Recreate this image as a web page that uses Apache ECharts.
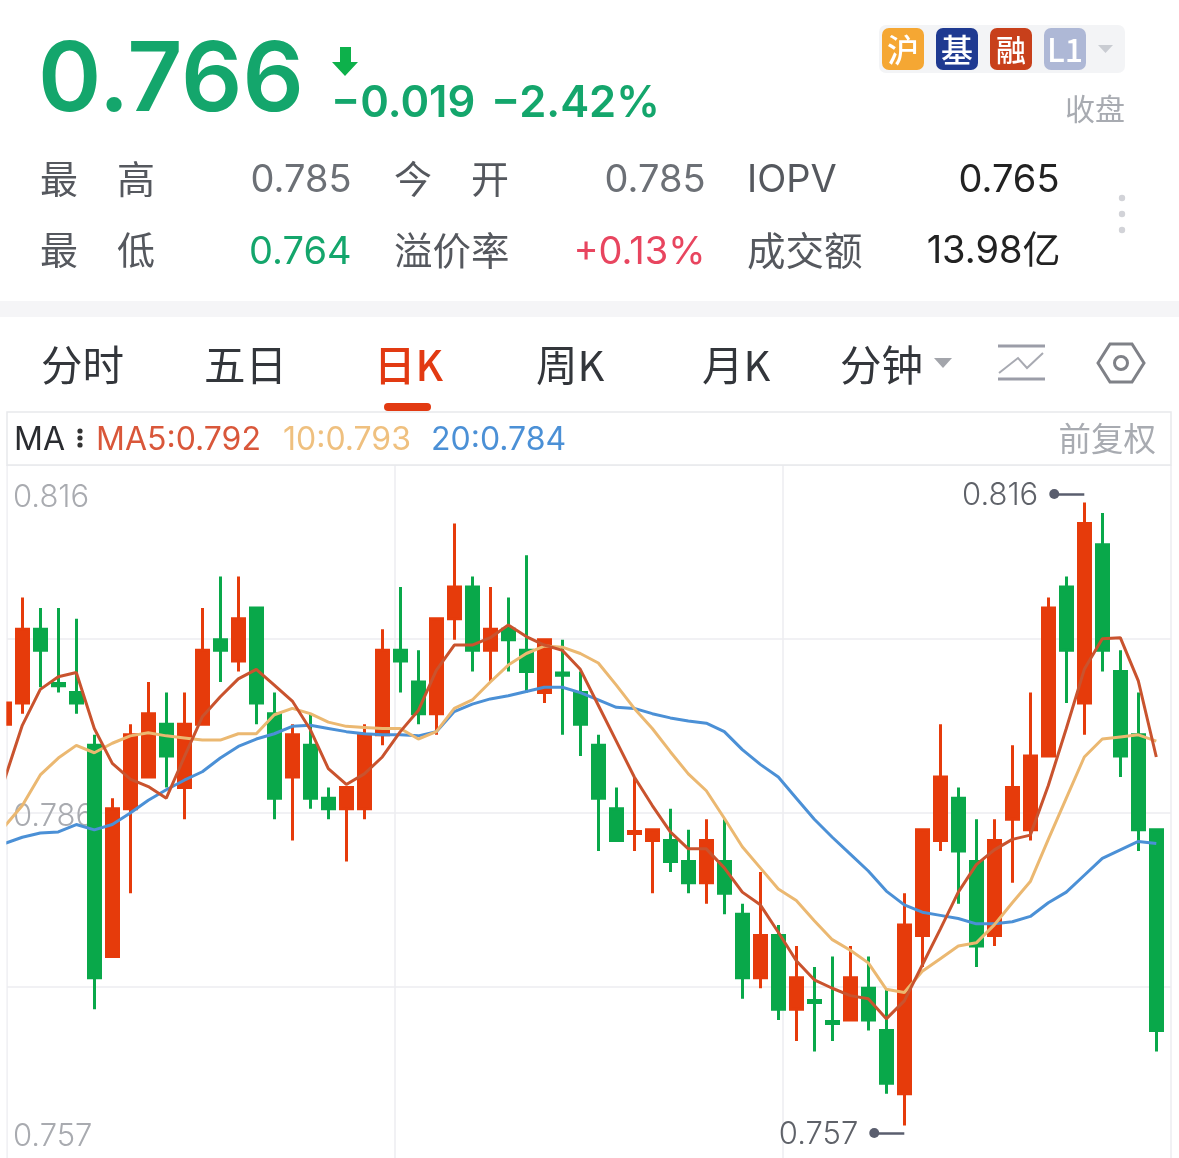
<!DOCTYPE html>
<html><head><meta charset="utf-8">
<style>html,body{margin:0;padding:0;background:#fff}#c{width:1179px;height:1158px}</style>
<script src="https://cdn.jsdelivr.net/npm/echarts@6/dist/echarts.min.js"></script>
</head><body><div id="c"></div>
<script>
const candleIndex = Array.from({length:65},(_,i)=>i);
const opens = [.795,.797,.804,.79885,.798,.793,.773,.787,.790,.795,.789,.795,.803,.801,.806,.796,.790,.793,.788,.787,.787,.794,.802,.799,.796,.805,.808,.802,.804,.802,.798,.79985,.798,.793,.787,.78465,.784,.784,.782,.780,.782,.777,.771,.775,.768,.76885,.76685,.767,.770,.766,.760,.775,.784,.788,.782,.775,.786,.785,.792,.808,.797,.812,.800,.794,.785];
const closes = [.797,.804,.802,.79865,.797,.771,.787,.794,.796,.792,.795,.802,.802,.805,.797,.788,.794,.788,.787,.789,.794,.802,.801,.796,.805,.808,.802,.804,.803,.800,.803,.79965,.795,.788,.784,.78485,.785,.782,.780,.784,.779,.771,.775,.768,.771,.76865,.76665,.771,.767,.761,.776,.785,.790,.783,.774,.784,.789,.792,.806,.802,.814,.802,.792,.785,.766];
const lows = [.795,.796,.7985,.798,.796,.768,.773,.779,.790,.789,.786,.795,.799,.800,.795,.786,.784,.787,.786,.782,.786,.793,.798,.795,.794,.803,.800,.799,.800,.798,.797,.794,.792,.783,.784,.783,.779,.781,.779,.778,.777,.769,.770,.767,.765,.764,.765,.767,.766,.760,.757,.772,.783,.778,.772,.774,.780,.784,.792,.797,.794,.800,.790,.783,.764];
const highs = [.797,.807,.806,.806,.805,.794,.788,.795,.799,.798,.798,.806,.809,.809,.806,.798,.795,.796,.789,.789,.795,.804,.808,.802,.805,.814,.809,.808,.807,.811,.803,.803,.800,.794,.789,.790,.785,.787,.785,.786,.786,.778,.781,.776,.774,.772,.773,.774,.773,.770,.779,.785,.795,.789,.786,.786,.793,.798,.807,.809,.816,.815,.802,.798,.785];
const ma5 = [.7897,.7949,.7983,.7995,.7999,.7946,.7913,.7898,.7891,.788,.7919,.7957,.7976,.7993,.8002,.7987,.7972,.7945,.7908,.7893,.7903,.7919,.7943,.7963,.8001,.8025,.8025,.8032,.8044,.8033,.8025,.802,.8002,.7968,.7934,.790,.7873,.7848,.7832,.7832,.7814,.7791,.7779,.7753,.7726,.7708,.770,.7693,.769,.7671,.7688,.7722,.7756,.7791,.7817,.7831,.7841,.7845,.7892,.7946,.8002,.8031,.8032,.7991,.7919];
const ma10 = [.7853,.7873,.7902,.7918,.793,.7923,.7932,.7939,.7942,.7939,.7937,.7935,.7935,.7941,.7941,.7959,.7965,.796,.7952,.7948,.7947,.7946,.7946,.7936,.7943,.7965,.7973,.799,.8006,.8017,.8024,.8023,.8017,.8008,.7987,.7965,.7946,.7924,.7903,.7887,.7861,.7834,.7814,.7794,.7783,.7764,.7746,.7736,.7724,.7699,.7696,.7716,.7728,.774,.7743,.776,.7781,.7801,.7841,.788,.7919,.7936,.7938,.794,.7934];
const ma20 = [.7837,.7843,.7847,.7848,.7855,.785,.7855,.7866,.7878,.7888,.7897,.7905,.7918,.7929,.7936,.7941,.7948,.7949,.7946,.7943,.7941,.794,.794,.7939,.7943,.7962,.7969,.7974,.7977,.7981,.7985,.7985,.798,.7973,.7966,.7965,.796,.7956,.7953,.7951,.7943,.7926,.7912,.79,.788,.786,.7843,.7827,.7811,.7792,.7779,.7772,.7769,.7766,.7761,.7761,.7763,.7768,.7781,.7791,.7807,.7823,.7831,.7839,.7837];
const yTickLabels = ['0.816','0.786','0.757'];
const yTickValues = [.8165,.7862,.7559];
const extremeHigh = {label:'0.816', fromIdx:58.33, toIdx:60, value:.8168};
const extremeLow = {label:'0.757', fromIdx:48.33, toIdx:50, value:.7563};
const tabs = ['分时','五日','日K','周K','月K','分钟'];

const UP='#E63B0B', DOWN='#09A84A', C5='#C9532E', C10='#EBB871', C20='#4B90D6';
const CJK='"Noto Sans CJK SC"', NUM='Inter,"Noto Sans CJK SC"';
const GREEN='#14A66C';
function T(text,x,y,size,fill,opt={}){
  return {type:'text',z:10,silent:true,style:{text,x,y,fill,textAlign:opt.align||'left',textVerticalAlign:'middle',
    font:`${opt.weight||400} ${size}px ${opt.family||NUM}`}};
}
function badge(x,label,fill,size){
  return [{type:'rect',z:10,silent:true,shape:{x,y:28,width:42,height:42,r:7},style:{fill}},
          T(label,x+21,50,size||32,'#fff',{align:'center',weight:500,family:CJK})];
}
const g=[];
g.push(T('0.766',38,82,96,GREEN,{weight:600}));
g.push({type:'polygon',z:10,silent:true,shape:{points:[[340,47],[351,47],[351,62],[358,62],[345,76],[332,62],[340,62]]},style:{fill:'#0DB14B'}});
g.push(T('−0.019',331,104,43.5,GREEN,{weight:600}));
g.push(T('−2.42%',491,104,43.5,GREEN,{weight:600}));
g.push({type:'rect',z:9,silent:true,shape:{x:879,y:25,width:246,height:48,r:7},style:{fill:'#F3F4F6'}});
g.push(...badge(882,'沪','#F5A733'),...badge(936,'基','#1F3A91'),...badge(990,'融','#C8401B',30),...badge(1044,'L1','#AEB8D6',32));
g.push({type:'polygon',z:10,silent:true,shape:{points:[[1098,45],[1113,45],[1105.5,53]]},style:{fill:'#C9CCD2'}});
g.push(T('收盘',1125,109,30,'#A8ABB1',{align:'right',family:CJK}));
const LB='#55585E', VG='#6C7076';
g.push(T('最',40,179,38,LB,{family:CJK}),T('高',117,179,38,LB,{family:CJK}));
g.push(T('0.785',351.5,181,38,VG,{align:'right'}));
g.push(T('今',394,179,38,LB,{family:CJK}),T('开',471,179,38,LB,{family:CJK}));
g.push(T('0.785',705.5,181,38,VG,{align:'right'}));
g.push(T('IOPV',747,181,38,LB));
g.push(T('0.765',1059.5,181,38,'#222',{align:'right'}));
g.push(T('最',40,250,38,LB,{family:CJK}),T('低',117,250,38,LB,{family:CJK}));
g.push(T('0.764',351.5,253,38,GREEN,{align:'right'}));
g.push(T('溢价率',394,250,38.5,LB,{family:CJK}));
g.push(T('+0.13%',705.5,253,38,'#E8455F',{align:'right'}));
g.push(T('成交额',747,250,38.5,LB,{family:CJK}));
g.push(T('13.98亿',1060.5,252,38,'#222',{align:'right'}));
[198,214,230].forEach(y=>g.push({type:'circle',z:10,silent:true,shape:{cx:1122,cy:y,r:3.2},style:{fill:'#D2D3D8'}}));
g.push({type:'rect',z:1,silent:true,shape:{x:0,y:301,width:1179,height:16},style:{fill:'#F5F5F7'}});
const tabX=[41,204,374,536,702,840];
tabs.forEach((t,i)=>g.push(T(t,tabX[i],365,41.5,i===2?'#E23A12':'#33363B',{family:CJK,weight:i===2?500:400})));
g.push({type:'rect',z:10,silent:true,shape:{x:384,y:403,width:47,height:8,r:4},style:{fill:'#E23A12'}});
g.push({type:'polygon',z:10,silent:true,shape:{points:[[934,358],[952,358],[943,368]]},style:{fill:'#A3A5AB'}});
g.push({type:'line',z:10,silent:true,shape:{x1:998,y1:346,x2:1045,y2:346},style:{stroke:'#9B9DA8',lineWidth:3}});
g.push({type:'line',z:10,silent:true,shape:{x1:998,y1:379,x2:1045,y2:379},style:{stroke:'#9B9DA8',lineWidth:3}});
g.push({type:'polyline',z:10,silent:true,shape:{points:[[999,373],[1018,358],[1027,368],[1043,353]]},style:{stroke:'#A8AAB2',lineWidth:2,fill:null}});
g.push({type:'polygon',z:10,silent:true,shape:{points:[[1098,363],[1110,344],[1132,344],[1144,363],[1132,382],[1110,382]]},style:{stroke:'#7F8187',lineWidth:3,fill:null}});
g.push({type:'circle',z:10,silent:true,shape:{cx:1121,cy:363,r:6.5},style:{stroke:'#7F8187',lineWidth:3,fill:null}});
g.push({type:'rect',z:1,silent:true,shape:{x:7,y:412,width:1164,height:53},style:{stroke:'#E8E9EC',lineWidth:1.5,fill:'#fff'}});
g.push(T('MA',14,440,32,'#2A2C30'));
[431,438,445].forEach(y=>g.push({type:'circle',z:10,silent:true,shape:{cx:80,cy:y,r:2.6},style:{fill:'#333'}}));
g.push(T('MA5:0.792',96,440,32,'#D9573A'));
g.push(T('10:0.793',283,440,32,'#EFC07F'));
g.push(T('20:0.784',431,440,32,'#4B90D6'));
g.push(T('前复权',1156,439,32.5,'#A8ABB1',{align:'right',family:CJK}));
// left margin outside the plot: the first, partly hidden candle ends at the plot edge
g.push({type:'rect',z:60,silent:true,shape:{x:0,y:466,width:6.3,height:692},style:{fill:'#fff'}});

const chart=echarts.init(document.getElementById('c'),null,{renderer:'canvas'});
const xMin=(7-4.3)/18, xMax=(1171-4.3)/18;
function extreme(e){
  return [{coord:[e.fromIdx,e.value],symbol:'circle',symbolSize:10,
           label:{show:true,position:'start',formatter:e.label,color:'#5F6269',fontSize:31,fontWeight:300,fontFamily:'Inter',distance:16,offset:[0,2]}},
          {coord:[e.toIdx,e.value],symbol:'none'}];
}
chart.setOption({
  animation:false,
  backgroundColor:'#fff',
  graphic:g,
  grid:{left:7,top:465,width:1164,height:696,containLabel:false,outerBoundsMode:'none'},
  xAxis:[
    {type:'value',min:xMin,max:xMax,show:true,splitLine:{show:false},axisLine:{show:false},axisTick:{show:false},axisLabel:{show:false}},
    {type:'value',min:0,max:3,interval:1,position:'top',axisLine:{show:false},axisTick:{show:false},axisLabel:{show:false},splitLine:{show:true,lineStyle:{color:'#ECEDF0',width:1.5}}}
  ],
  yAxis:[
    {type:'value',min:.75364,max:.81955,splitLine:{show:false},axisLine:{show:false},axisTick:{show:false},
     axisLabel:{show:true,inside:true,margin:6,color:'#A9ABB0',fontSize:31,fontWeight:300,fontFamily:'Inter',customValues:yTickValues,
       formatter:v=>{const k=yTickValues.findIndex(t=>Math.abs(t-v)<1e-6);return k>=0?yTickLabels[k]:'';}}},
    {type:'value',min:0,max:4,interval:1,position:'right',axisLine:{show:false},axisTick:{show:false},axisLabel:{show:false},splitLine:{show:true,lineStyle:{color:'#ECEDF0',width:1.5}}}
  ],
  series:[
    {type:'candlestick',xAxisIndex:0,yAxisIndex:0,barWidth:12,z:2,
     encode:{x:0,y:[1,2,3,4]},
     data:candleIndex.map(i=>[i,opens[i],closes[i],lows[i],highs[i]]),
     itemStyle:{color:UP,color0:DOWN,borderColor:UP,borderColor0:DOWN,borderWidth:3},
     markLine:{silent:true,animation:false,symbolSize:10,lineStyle:{color:'#5A5E6E',width:2.5,type:'solid'},data:[extreme(extremeHigh),extreme(extremeLow)]}},
    ...[[ma20,C20,'MA20'],[ma10,C10,'MA10'],[ma5,C5,'MA5']].map(([d,c,n],k)=>({
      type:'line',name:n,xAxisIndex:0,yAxisIndex:0,z:3+k,showSymbol:false,symbol:'none',
      data:candleIndex.map(i=>[i,d[i]]),lineStyle:{color:c,width:3},clip:true}))
  ]
});
</script></body></html>
